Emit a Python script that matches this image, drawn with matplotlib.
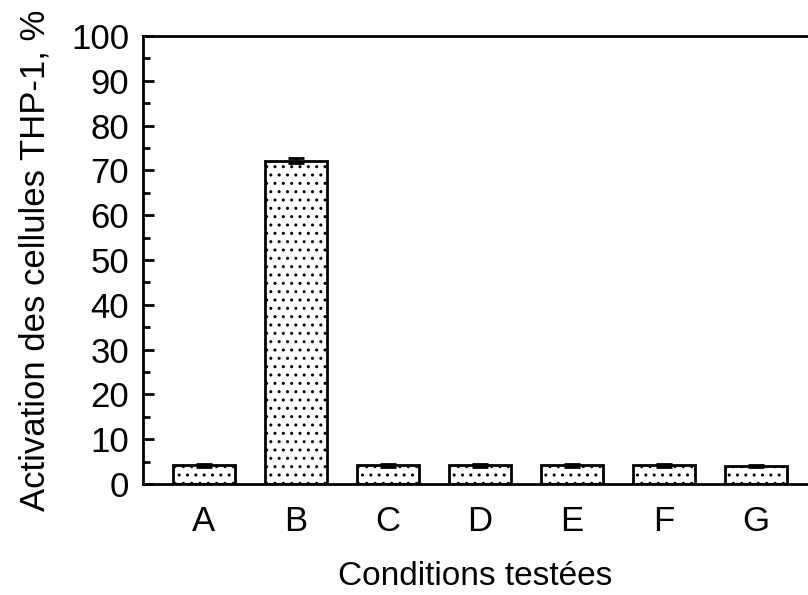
import matplotlib.pyplot as plt
import matplotlib as mpl

plt.rcParams['font.family'] = ['Liberation Sans', 'DejaVu Sans']
mpl.rcParams['hatch.color'] = '#666666'
mpl.rcParams['hatch.linewidth'] = 1.0

conditions = ['A', 'B', 'C', 'D', 'E', 'F', 'G']
activation = [4.2, 72.2, 4.2, 4.2, 4.2, 4.2, 4.0]
errors = [0.3, 0.6, 0.3, 0.3, 0.3, 0.3, 0.3]

fig = plt.figure(figsize=(8.08, 5.95), dpi=100)
ax = fig.add_axes([143 / 808, 111 / 595, 665 / 808, 448 / 595])

x = range(len(conditions))
ax.bar(x, activation, width=0.67, color='white', edgecolor='black',
       linewidth=2, hatch='..', zorder=2)
ax.errorbar(x, activation, yerr=errors, fmt='none', ecolor='black',
            elinewidth=2, capsize=6, capthick=2, zorder=3)

ax.set_xlim(-0.663, 6.565)
ax.set_ylim(0, 100)
ax.set_xticks(list(x))
ax.set_xticklabels(conditions)
ax.set_yticks(range(0, 101, 10))
ax.set_yticks(range(5, 100, 10), minor=True)
ax.tick_params(axis='y', which='major', direction='in', length=8, width=2,
               labelsize=25, pad=10)
ax.tick_params(axis='y', which='minor', direction='in', length=5, width=2)
ax.tick_params(axis='x', length=0, labelsize=25, pad=15)

for s in ['left', 'top', 'bottom']:
    ax.spines[s].set_linewidth(2)
ax.spines['right'].set_visible(False)

ax.set_xlabel('Conditions testées', fontsize=24, labelpad=17)
ax.set_ylabel('Activation des cellules THP-1, %', fontsize=25, labelpad=14)

fig.savefig('out.png', dpi=100)
